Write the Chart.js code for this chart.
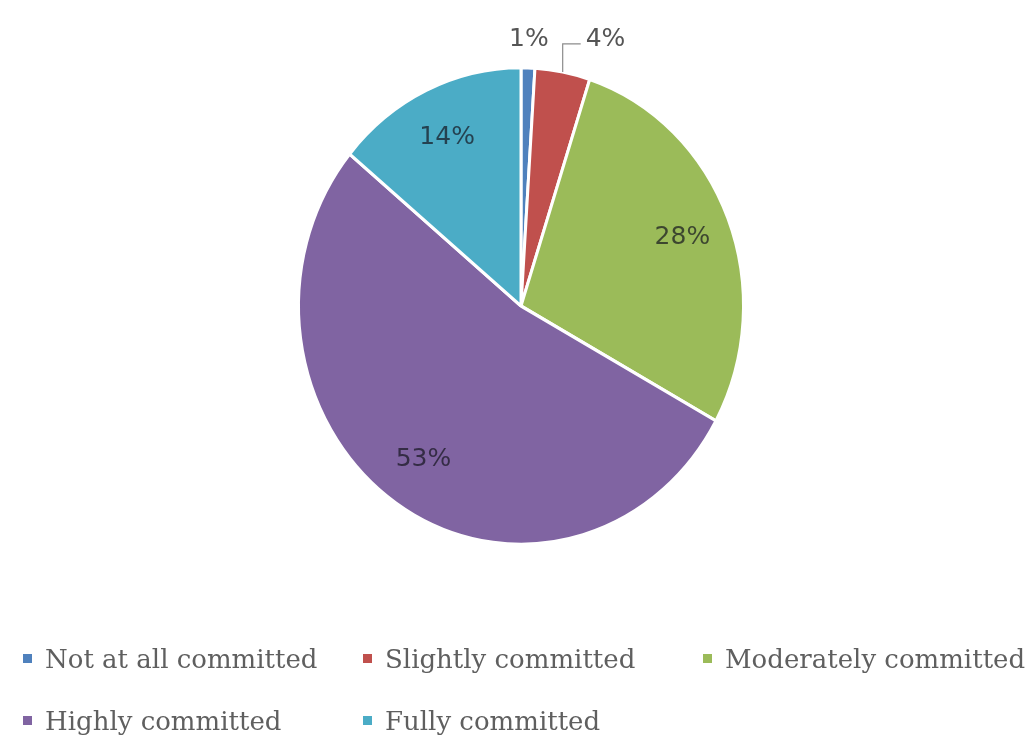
<!DOCTYPE html>
<html>
<head>
<meta charset="utf-8">
<script src="https://cdn.jsdelivr.net/npm/chart.js@4/dist/chart.umd.min.js"></script>
<style>
  html, body { margin: 0; padding: 0; background: #fff; }
  #commitCanvas { display: block; }
</style>
</head>
<body>
<canvas id="commitCanvas" width="1034" height="740"></canvas>
<script>
var labels = ["Not at all committed", "Slightly committed", "Moderately committed", "Highly committed", "Fully committed"];
var shares = [1, 4, 28, 53, 14];
var sliceColors = ["#4F81BD", "#C0504D", "#9BBB59", "#8064A2", "#4BACC6"];

var stretchY = 1.071;       // pie is a bit taller than wide
var insideFactor = 0.78;    // where the % labels sit inside a slice
var outsideFactor = 1.12;   // small slices get the label outside
var smallSlice = 5;
var leaderSlices = [1];     // these get an elbow leader line

var legendCols = [23, 363, 703];
var legendRow0 = 668, legendRowGap = 62;

function midPoint(arc, factor) {
    var mid = (arc.startAngle + arc.endAngle) / 2;
    var r = arc.outerRadius * factor;
    return {
        x: arc.x + Math.cos(mid) * r,
        y: arc.y + Math.sin(mid) * r * stretchY
    };
}

// squash the drawing context so the pie comes out slightly oval
var ovalPlugin = {
    id: 'oval',
    beforeDatasetsDraw: function(chart) {
        var arc = chart.getDatasetMeta(0).data[0];
        var ctx = chart.ctx;
        ctx.save();
        ctx.translate(arc.x, arc.y);
        ctx.scale(1, stretchY);
        ctx.translate(-arc.x, -arc.y);
    },
    afterDatasetsDraw: function(chart) {
        chart.ctx.restore();
    }
};

var pctLabelPlugin = {
    id: 'pctLabels',
    afterDraw: function(chart) {
        var ctx = chart.ctx;
        var meta = chart.getDatasetMeta(0);
        ctx.save();
        ctx.font = '25px "DejaVu Sans"';
        ctx.textAlign = 'center';
        ctx.textBaseline = 'middle';
        for (var i = 0; i < meta.data.length; i++) {
            var arc = meta.data[i];
            var txt = shares[i] + '%';
            if (shares[i] >= smallSlice) {
                var p = midPoint(arc, insideFactor);
                ctx.fillStyle = 'rgba(20,20,30,0.7)';
                ctx.fillText(txt, p.x, p.y);
                continue;
            }
            ctx.fillStyle = '#555';
            if (leaderSlices.indexOf(i) >= 0) {
                var edge = midPoint(arc, 1.0);
                var elbow = midPoint(arc, outsideFactor);
                elbow.x = edge.x;
                ctx.strokeStyle = '#8c8c8c';
                ctx.lineWidth = 1.2;
                ctx.beginPath();
                ctx.moveTo(edge.x, edge.y);
                ctx.lineTo(elbow.x, elbow.y);
                ctx.lineTo(elbow.x + 18, elbow.y);
                ctx.stroke();
                ctx.textAlign = 'left';
                ctx.fillText(txt, elbow.x + 23, elbow.y - 4);
                ctx.textAlign = 'center';
            } else {
                var q = midPoint(arc, outsideFactor);
                ctx.fillText(txt, q.x, q.y);
            }
        }
        ctx.restore();
    }
};

// legend laid out in fixed columns, wrapping after three items
var gridLegendPlugin = {
    id: 'gridLegend',
    afterDraw: function(chart) {
        var ctx = chart.ctx;
        ctx.save();
        ctx.font = '26px "DejaVu Serif"';
        ctx.textBaseline = 'alphabetic';
        ctx.textAlign = 'left';
        for (var i = 0; i < labels.length; i++) {
            var x = legendCols[i % legendCols.length];
            var y = legendRow0 + Math.floor(i / legendCols.length) * legendRowGap;
            ctx.fillStyle = sliceColors[i];
            ctx.fillRect(x, y - 14, 9, 9);
            ctx.fillStyle = '#5f5f5f';
            ctx.fillText(labels[i], x + 22, y);
        }
        ctx.restore();
    }
};

var ctx = document.getElementById('commitCanvas').getContext('2d');
var chart = new Chart(ctx, {
    type: 'pie',
    data: {
        labels: labels,
        datasets: [{
            data: shares,
            backgroundColor: sliceColors,
            borderColor: '#ffffff',
            borderWidth: 3
        }]
    },
    options: {
        responsive: false,
        animation: false,
        layout: { padding: { top: 82, bottom: 210, left: 297, right: 289 } },
        plugins: {
            legend: { display: false },
            tooltip: { enabled: false }
        }
    },
    plugins: [ovalPlugin, pctLabelPlugin, gridLegendPlugin]
});
</script>
</body>
</html>
